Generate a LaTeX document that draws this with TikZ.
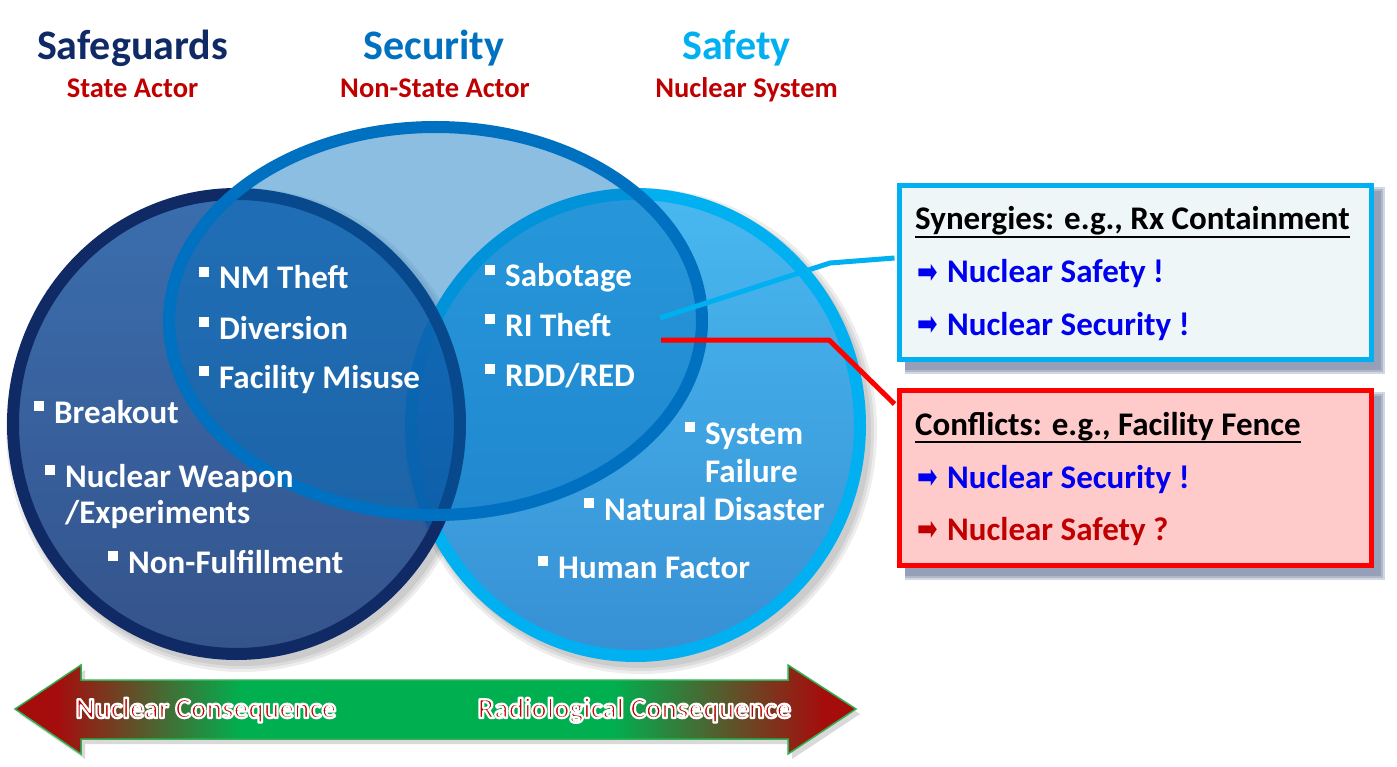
\documentclass[tikz,border=0pt]{standalone}
\usepackage{fontspec}
\setmainfont{Carlito}
\newfontfamily\symfont{DejaVu Sans}
\usetikzlibrary{calc}
\definecolor{cNavy}{HTML}{102A66}
\definecolor{cSec}{HTML}{0070C0}
\definecolor{cSaf}{HTML}{00B0F0}
\definecolor{cRed}{HTML}{C00000}
\definecolor{cBlue}{HTML}{0000F0}
\definecolor{cLeftTop}{HTML}{1B5AA8}
\definecolor{cLeftBot}{HTML}{14397E}
\definecolor{cRightTop}{HTML}{48B8F0}
\definecolor{cRightBot}{HTML}{3790D4}
\definecolor{cSynFill}{HTML}{EEF6F8}
\definecolor{cConFill}{HTML}{FFCACA}
\definecolor{cShadow}{HTML}{3A4A7A}
\definecolor{cArrRed}{HTML}{A50D0D}
\definecolor{cArrGreen}{HTML}{00B050}
\definecolor{cArrLine}{HTML}{30B050}
\pgfdeclarehorizontalshading{conseq}{100bp}{color(0bp)=(cArrRed); color(27.5bp)=(cArrRed); color(38.5bp)=(cArrGreen); color(60.5bp)=(cArrGreen); color(73bp)=(cArrRed); color(100bp)=(cArrRed)}
\newcommand{\bsq}{\raisebox{12pt}{\rule{10pt}{10pt}}\hspace{10pt}}
\newcommand{\myul}[1]{\setbox0\hbox{#1}\rlap{\rule[-8pt]{\wd0}{2pt}}\box0}
\newcommand{\glowtext}[1]{\special{pdf:literal direct 2 Tr 2.2 w 1 j 1 1 1 RG}#1\special{pdf:literal direct 0 Tr}}
\newcommand{\blockarr}{\scalebox{0.72}[1.0]{➡}}
\tikzset{
  vitem/.style={anchor=base west, inner sep=0pt, text=white, font=\fontsize{33}{36}\selectfont\bfseries},
  ttl/.style={anchor=base, inner sep=0pt, font=\fontsize{42}{44}\selectfont\bfseries},
  subttl/.style={anchor=base, inner sep=0pt, text=cRed, font=\fontsize{28.5}{30}\selectfont\bfseries},
  boxtxt/.style={anchor=base west, inner sep=0pt, font=\fontsize{33}{36}\selectfont\bfseries},
  boxarr/.style={anchor=center, inner sep=0pt, font=\fontsize{34}{36}\selectfont\symfont},
  synbox/.style={draw=cSaf, line width=5pt, fill=cSynFill, minimum width=472pt, minimum height=174pt, inner sep=0pt},
  conbox/.style={draw=red, line width=5pt, fill=cConFill, minimum width=472pt, minimum height=175pt, inner sep=0pt},
  conseqtxt/.style={anchor=base, inner sep=0pt, text=cRed, font=\fontsize{29}{30}\selectfont\bfseries},
  link/.style={line width=5pt, line join=round},
}
\begin{document}
\begin{tikzpicture}[x=1pt,y=-1pt]
\useasboundingbox (0,0) rectangle (1397,767);
\fill[white] (0,0) rectangle (1397,767);
% soft shadows of the circles
\foreach \k in {0,3,6}{
  \fill[black, opacity=0.07] (241.5,430) ellipse [x radius=229.5+\k, y radius=236+\k];
  \fill[black, opacity=0.07] (640.5,431) ellipse [x radius=230.5+\k, y radius=237+\k];
}
% right circle (Safety)
\shade[top color=cRightTop, bottom color=cRightBot] (635.5,425) ellipse [x radius=224.5, y radius=231];
\draw[cSaf, line width=12pt] (635.5,425) ellipse [x radius=224.5, y radius=231];
% left circle (Safeguards)
\shade[top color=cLeftTop, bottom color=cLeftBot, fill opacity=0.82] (236.5,424) ellipse [x radius=223.5, y radius=230];
\draw[cNavy, line width=12pt] (236.5,424) ellipse [x radius=223.5, y radius=230];
% middle circle (Security)
\fill[cSec, fill opacity=0.45] (435.5,321) ellipse [x radius=266.5, y radius=194];
\draw[cSec, line width=12pt] (435.5,321) ellipse [x radius=266.5, y radius=194];
% items
\node[vitem] (nm) at (199,289) {\bsq NM Theft};
\node[vitem] (div) at (199,339) {\bsq Diversion};
\node[vitem] (fac) at (199,388) {\bsq Facility Misuse};
\node[vitem] (sab) at (485,287) {\bsq Sabotage};
\node[vitem] (ri) at (485,336) {\bsq RI Theft};
\node[vitem] (rdd) at (485,386) {\bsq RDD/RED};
\node[vitem] (brk) at (34,423) {\bsq Breakout};
\node[vitem] (nw) at (45,487) {\bsq Nuclear Weapon};
\node[vitem] (nw2) at (65,523) {/Experiments};
\node[vitem] (nf) at (108,573) {\bsq Non-Fulfillment};
\node[vitem] (sys) at (685,444) {\bsq System};
\node[vitem] (sys2) at (705,482) {Failure};
\node[vitem] (nd) at (584,520) {\bsq Natural Disaster};
\node[vitem] (hf) at (538,578) {\bsq Human Factor};
% box shadows
\foreach \k in {0,2,4}{
  \fill[cShadow, opacity=0.22] (905,191-\k) rectangle (1381+\k,370+\k);
  \fill[cShadow, opacity=0.22] (905,396-\k) rectangle (1381+\k,576+\k);
}
% boxes
\node[synbox] (syn) at (1135.5,272.5) {};
\node[conbox] (con) at (1135.5,478) {};
% connectors
\coordinate (cs) at (660,318);
\coordinate (cb) at (830,263);
\coordinate (rs) at (661,340);
\coordinate (rb) at (829,340);
\draw[link, cSaf] (cs) -- (cb) -- ($(syn.west)+(-2.5,-14.5)$);
\draw[link, red] (rs) -- (rb) -- ($(con.west)+(-2.5,-74)$);
% box texts
\node[boxtxt] (synt) at (915,230) {\myul{Synergies: e.g., Rx Containment}};
\node[boxarr, text=cBlue] (syna1) at (927.5,274) {\blockarr};
\node[boxtxt, text=cBlue] (syn1) at (947,283) {Nuclear Safety !};
\node[boxarr, text=cBlue] (syna2) at (927.5,326) {\blockarr};
\node[boxtxt, text=cBlue] (syn2) at (947,335) {Nuclear Security !};
\node[boxtxt] (cont) at (915,435) {\myul{Conflicts: e.g., Facility Fence}};
\node[boxarr, text=cBlue] (cona1) at (927.5,479) {\blockarr};
\node[boxtxt, text=cBlue] (con1) at (947,488) {Nuclear Security !};
\node[boxarr, text=cRed] (cona2) at (927.5,531) {\blockarr};
\node[boxtxt, text=cRed] (con2) at (947,540) {Nuclear Safety ?};
% consequence arrow
\fill[black, opacity=0.15] (19,714) -- (85,670) -- (85,685) -- (792,685) -- (792,670) -- (860,714) -- (792,759) -- (792,744) -- (85,744) -- (85,759) -- cycle;
\shade[shading=conseq, draw=cArrLine, line width=1.5pt]
  (15,709) -- (81,665) -- (81,680) -- (788,680) -- (788,665) -- (856,709) -- (788,754) -- (788,739) -- (81,739) -- (81,754) -- cycle;
\node[conseqtxt] (nc) at (206,718) {\glowtext{Nuclear Consequence}};
\node[conseqtxt] (rc) at (634.5,718) {\glowtext{Radiological Consequence}};
% titles
\node[ttl, text=cNavy] (sg) at (132.5,60) {Safeguards};
\node[ttl, text=cSec] (sc) at (434,60) {Security};
\node[ttl, text=cSaf] (sf) at (736.5,60) {Safety};
\node[subttl] (sga) at (132.5,98) {State Actor};
\node[subttl] (sca) at (435,98) {Non-State Actor};
\node[subttl] (sfa) at (746.5,98) {Nuclear System};
\end{tikzpicture}
\end{document}
